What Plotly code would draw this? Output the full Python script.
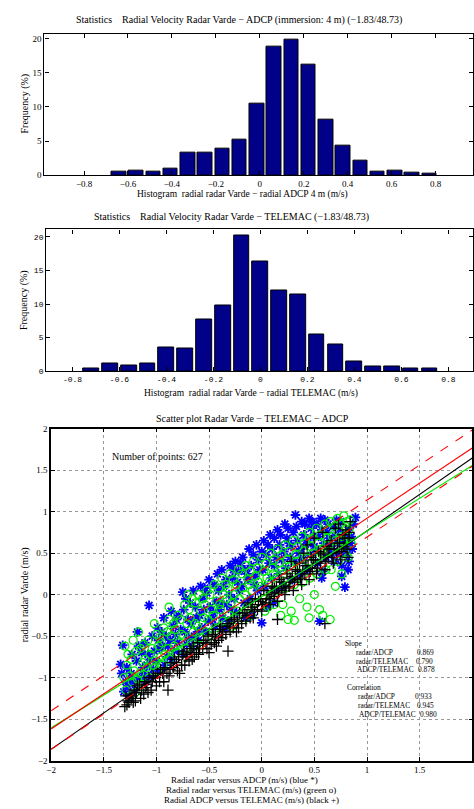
import plotly.graph_objects as go

W, H = 474, 809

# ---------------- data ----------------
hist1_centers = [-0.642, -0.564, -0.485, -0.407, -0.328, -0.250, -0.171, -0.092, -0.014,
                 0.065, 0.143, 0.222, 0.300, 0.379, 0.458, 0.536, 0.615, 0.693, 0.772]
hist1_freq = [0.58, 0.72, 0.58, 0.96, 3.37, 3.37, 3.85, 5.16, 10.55,
              18.84, 19.86, 16.14, 8.14, 4.29, 2.07, 0.48, 0.67, 0.34, 0.19]

hist2_centers = [-0.72, -0.64, -0.56, -0.48, -0.40, -0.32, -0.24, -0.16, -0.08,
                 0.0, 0.08, 0.16, 0.24, 0.32, 0.40, 0.48, 0.56, 0.64, 0.72]
hist2_freq = [0.34, 1.18, 0.79, 1.18, 3.54, 3.39, 7.71, 9.73, 20.2,
              16.3, 12.0, 11.4, 5.45, 4.03, 1.47, 0.64, 0.64, 0.34, 0.34]

hist_ticks = [-0.8, -0.6, -0.4, -0.2, 0, 0.2, 0.4, 0.6, 0.8]
hist_ticklabels = ["\u22120.8", "\u22120.6", "\u22120.4", "\u22120.2", "0", "0.2", "0.4", "0.6", "0.8"]
hist2_ticklabels = ["-0.8", "-0.6", "-0.4", "-0.2", "0", "0.2", "0.4", "0.6", "0.8"]
freq_ticks = [0, 5, 10, 15, 20]

scat_ticks = [-2, -1.5, -1, -0.5, 0, 0.5, 1, 1.5, 2]
scat_ticklabels = ["\u22122", "\u22121.5", "\u22121", "\u22120.5", "0", "0.5", "1", "1.5", "2"]

# radar vs ADCP (blue *)
blue_pts = [
    (-1.32, -0.61), (-1.34, -0.84), (-1.31, -1.17), (-1.29, -1.05), (-1.33, -0.95),
    (-1.26, -1.22), (-1.24, -0.95), (-1.27, -1.10), (-1.23, -0.72), (-1.25, -1.02),
    (-1.18, -0.45), (-1.19, -0.80), (-1.16, -1.00), (-1.20, -1.15), (-1.17, -0.62),
    (-1.11, -0.58), (-1.09, -0.85), (-1.12, -0.95), (-1.10, -1.05), (-1.08, -0.72),
    (-1.07, -0.13), (-1.04, -0.50), (-1.06, -0.78), (-1.03, -0.90), (-1.05, -0.98),
    (-0.99, -0.40), (-0.97, -0.65), (-1.00, -0.80), (-0.96, -0.92), (-0.98, -0.55),
    (-0.93, -0.28), (-0.91, -0.50), (-0.94, -0.62), (-0.90, -0.75), (-0.92, -0.85),
    (-0.86, -0.20), (-0.84, -0.38), (-0.87, -0.55), (-0.83, -0.68), (-0.85, -0.78),
    (-0.75, 0.03), (-0.79, -0.25), (-0.77, -0.42), (-0.80, -0.58), (-0.76, -0.70),
    (-0.72, -0.05), (-0.70, -0.30), (-0.73, -0.45), (-0.71, -0.60), (-0.74, -0.18),
    (-0.65, 0.05), (-0.63, -0.15), (-0.67, -0.35), (-0.64, -0.50), (-0.66, -0.62),
    (-0.58, 0.10), (-0.56, -0.05), (-0.59, -0.25), (-0.57, -0.40), (-0.60, -0.55),
    (-0.50, 0.18), (-0.52, 0.02), (-0.49, -0.15), (-0.51, -0.32), (-0.53, -0.45),
    (-0.45, 0.12), (-0.43, -0.08), (-0.46, -0.22), (-0.44, -0.38), (-0.42, 0.25),
    (-0.38, 0.30), (-0.36, 0.10), (-0.39, -0.10), (-0.37, -0.28), (-0.35, -0.40),
    (-0.30, 0.35), (-0.28, 0.20), (-0.31, 0.00), (-0.29, -0.18), (-0.32, -0.32),
    (-0.25, 0.40), (-0.23, 0.15), (-0.26, -0.05), (-0.24, -0.22), (-0.22, 0.28),
    (-0.18, 0.45), (-0.16, 0.30), (-0.19, 0.10), (-0.17, -0.10), (-0.15, -0.28),
    (-0.12, 0.55), (-0.10, 0.35), (-0.13, 0.18), (-0.11, -0.05), (-0.09, -0.25),
    (-0.05, 0.60), (-0.03, 0.42), (-0.06, 0.22), (-0.04, 0.05), (0.00, -0.34),
    (0.02, 0.65), (0.04, 0.48), (0.01, 0.30), (0.03, 0.10), (0.05, -0.15),
    (0.08, 0.72), (0.10, 0.55), (0.07, 0.38), (0.09, 0.20), (0.11, -0.10),
    (0.15, 0.78), (0.17, 0.60), (0.14, 0.45), (0.16, 0.25), (0.13, 0.05),
    (0.22, 0.85), (0.24, 0.68), (0.21, 0.52), (0.23, 0.32), (0.20, 0.10),
    (0.32, 0.96), (0.30, 0.75), (0.28, 0.58), (0.31, 0.40), (0.29, 0.18),
    (0.38, 0.88), (0.40, 0.72), (0.37, 0.55), (0.39, 0.42), (0.36, 0.25),
    (0.45, 0.92), (0.47, 0.80), (0.44, 0.62), (0.46, 0.48), (0.43, 0.30),
    (0.52, 0.85), (0.54, 0.70), (0.51, 0.55), (0.53, 0.38), (0.55, -0.32),
    (0.60, 0.90), (0.62, 0.75), (0.59, 0.62), (0.61, 0.45), (0.58, 0.28),
    (0.68, 0.82), (0.70, 0.70), (0.67, 0.55), (0.69, 0.40), (0.66, 0.50),
    (0.75, 0.88), (0.77, 0.65), (0.74, 0.48), (0.76, 0.35), (0.79, 0.09),
    (0.82, 0.78), (0.84, 0.62), (0.81, 0.50), (0.89, 0.93),
    (0.85, 0.70), (0.86, 0.55), (0.83, 0.40),
    (-1.28, -0.88), (-1.21, -1.05), (-1.14, -0.70), (-1.13, -0.88), (-1.02, -0.68),
    (-0.95, -0.45), (-0.89, -0.62), (-0.82, -0.48), (-0.81, -0.30), (-0.69, -0.52),
    (-0.68, -0.10), (-0.62, -0.28), (-0.61, -0.45), (-0.55, -0.18), (-0.54, 0.08),
    (-0.47, -0.30), (-0.41, 0.05), (-0.40, -0.18), (-0.34, 0.18), (-0.33, -0.12),
    (-0.27, 0.30), (-0.21, 0.05), (-0.20, 0.38), (-0.14, 0.25), (-0.08, 0.48),
    (-0.07, 0.12), (-0.02, 0.30), (0.00, 0.52), (0.06, 0.60), (0.12, 0.68),
    (0.12, 0.35), (0.18, 0.72), (0.19, 0.42), (0.25, 0.80), (0.26, 0.62),
    (0.27, 0.45), (0.33, 0.82), (0.34, 0.65), (0.35, 0.50), (0.41, 0.85),
    (0.42, 0.65), (0.48, 0.88), (0.49, 0.70), (0.50, 0.58), (0.56, 0.92),
    (0.57, 0.78), (0.63, 0.85), (0.64, 0.68), (0.65, 0.58), (0.71, 0.90),
    (0.72, 0.62), (0.73, 0.78), (0.78, 0.72), (0.80, 0.58), (0.87, 0.85),
    (0.82, 0.30), (0.76, 0.22), (0.57, 0.20),
]

# radar vs TELEMAC (green o)
green_pts = [
    (-1.30, -0.62), (-1.28, -0.85), (-1.31, -1.00), (-1.29, -1.15),
    (-1.22, -0.55), (-1.24, -0.78), (-1.21, -0.92), (-1.23, -1.05), (-1.20, -1.18),
    (-1.15, -0.65), (-1.13, -0.82), (-1.16, -0.95), (-1.14, -1.08), (-1.17, -0.45),
    (-1.08, -0.55), (-1.06, -0.72), (-1.09, -0.88), (-1.07, -1.00),
    (-1.00, -0.48), (-0.98, -0.62), (-1.01, -0.80), (-0.99, -0.92), (-1.02, -0.35),
    (-0.93, -0.40), (-0.95, -0.58), (-0.92, -0.72), (-0.94, -0.85),
    (-0.88, -0.30), (-0.86, -0.50), (-0.89, -0.65), (-0.87, -0.78), (-0.88, -0.15),
    (-0.80, -0.25), (-0.82, -0.42), (-0.79, -0.58), (-0.81, -0.70),
    (-0.73, -0.12), (-0.71, -0.35), (-0.74, -0.50), (-0.72, -0.65), (-0.70, 0.00),
    (-0.66, -0.05), (-0.68, -0.28), (-0.65, -0.45), (-0.67, -0.58),
    (-0.60, 0.00), (-0.58, -0.20), (-0.61, -0.38), (-0.59, -0.52), (-0.62, -0.62),
    (-0.52, 0.05), (-0.54, -0.12), (-0.51, -0.30), (-0.53, -0.45),
    (-0.45, 0.12), (-0.43, -0.08), (-0.46, -0.25), (-0.44, -0.40), (-0.47, -0.50),
    (-0.38, 0.20), (-0.36, 0.00), (-0.39, -0.18), (-0.37, -0.32),
    (-0.30, 0.25), (-0.32, 0.08), (-0.29, -0.10), (-0.31, -0.25), (-0.28, -0.38),
    (-0.22, 0.30), (-0.24, 0.12), (-0.21, -0.05), (-0.23, -0.20),
    (-0.15, 0.35), (-0.13, 0.18), (-0.16, 0.00), (-0.14, -0.15), (-0.17, -0.30),
    (-0.08, 0.40), (-0.06, 0.22), (-0.09, 0.05), (-0.07, -0.10), (-0.10, -0.25),
    (0.00, 0.45), (0.02, 0.28), (-0.01, 0.10), (0.01, -0.05), (0.03, -0.20),
    (0.08, 0.50), (0.10, 0.32), (0.07, 0.15), (0.09, 0.00), (0.06, -0.15),
    (0.15, 0.55), (0.17, 0.38), (0.14, 0.20), (0.16, 0.05), (0.18, -0.25),
    (0.22, 0.60), (0.24, 0.42), (0.21, 0.25), (0.23, 0.08), (0.20, -0.12),
    (0.30, 0.65), (0.32, 0.48), (0.29, 0.30), (0.31, 0.12), (0.28, -0.20), (0.31, -0.31),
    (0.38, 0.70), (0.40, 0.52), (0.37, 0.35), (0.39, 0.15), (0.36, -0.05),
    (0.45, 0.75), (0.47, 0.58), (0.44, 0.40), (0.46, 0.20), (0.43, -0.15),
    (0.52, 0.80), (0.54, 0.62), (0.51, 0.45), (0.53, 0.25), (0.50, 0.00),
    (0.60, 0.85), (0.62, 0.68), (0.59, 0.50), (0.61, 0.30), (0.58, -0.25),
    (0.65, 0.88), (0.67, 0.70), (0.64, 0.52), (0.66, 0.30), (0.65, -0.30),
    (0.72, 0.92), (0.74, 0.75), (0.71, 0.58), (0.73, 0.40), (0.70, 0.10),
    (0.78, 0.95), (0.80, 0.82), (0.77, 0.65), (0.79, 0.50), (0.76, 0.25),
    (0.84, 0.90), (0.83, 0.78), (0.85, 0.62), (0.82, 0.45),
    (-1.27, -0.72), (-1.25, -0.98), (-1.19, -0.68), (-1.18, -1.02), (-1.12, -0.60),
    (-1.11, -0.78), (-1.04, -0.65), (-1.03, -0.85), (-0.97, -0.52), (-0.96, -0.75),
    (-0.90, -0.45), (-0.84, -0.35), (-0.83, -0.62), (-0.77, -0.30), (-0.76, -0.48),
    (-0.69, -0.18), (-0.63, -0.10), (-0.63, -0.35), (-0.56, -0.05), (-0.55, -0.28),
    (-0.49, 0.00), (-0.48, -0.18), (-0.41, 0.08), (-0.40, -0.12), (-0.34, 0.12),
    (-0.33, -0.05), (-0.27, 0.18), (-0.26, 0.00), (-0.19, 0.25), (-0.18, 0.08),
    (-0.11, 0.28), (-0.12, 0.12), (-0.04, 0.32), (-0.03, 0.15), (0.04, 0.38),
    (0.05, 0.20), (0.12, 0.42), (0.11, 0.25), (0.19, 0.48), (0.19, 0.30),
    (0.26, 0.52), (0.27, 0.35), (0.34, 0.58), (0.33, 0.40), (0.41, 0.62),
    (0.42, 0.45), (0.48, 0.68), (0.49, 0.50), (0.56, 0.72), (0.56, 0.55),
    (0.63, 0.78), (0.63, 0.60), (0.69, 0.82), (0.70, 0.65), (0.75, 0.85),
    (0.76, 0.70), (0.81, 0.88), (0.80, 0.72), (0.25, -0.30), (0.45, -0.28),
    (0.55, -0.18), (0.12, -0.12),
]

# ADCP vs TELEMAC (black +)
black_pts = [
    (-1.28, -1.33), (-1.27, -1.28), (-1.29, -1.22),
    (-1.22, -1.30), (-1.23, -1.22), (-1.21, -1.15), (-1.24, -1.25),
    (-1.15, -1.25), (-1.14, -1.15), (-1.16, -1.08),
    (-1.08, -1.18), (-1.09, -1.08), (-1.07, -1.00), (-1.10, -1.12),
    (-1.00, -1.10), (-1.01, -1.00), (-0.99, -0.95),
    (-0.93, -1.05), (-0.94, -0.95), (-0.92, -0.88), (-0.89, -1.15),
    (-0.88, -0.98), (-0.87, -0.90), (-0.86, -0.82),
    (-0.80, -0.92), (-0.81, -0.82), (-0.79, -0.75), (-0.78, -0.95),
    (-0.73, -0.85), (-0.72, -0.75), (-0.74, -0.68), (-0.71, -0.72),
    (-0.66, -0.78), (-0.67, -0.70), (-0.65, -0.62), (-0.64, -0.75),
    (-0.60, -0.72), (-0.59, -0.65), (-0.61, -0.58),
    (-0.52, -0.65), (-0.53, -0.58), (-0.51, -0.50), (-0.50, -0.70),
    (-0.45, -0.58), (-0.44, -0.50), (-0.46, -0.42), (-0.43, -0.62),
    (-0.38, -0.52), (-0.37, -0.45), (-0.39, -0.38),
    (-0.30, -0.45), (-0.31, -0.38), (-0.29, -0.30), (-0.32, -0.68),
    (-0.22, -0.40), (-0.23, -0.32), (-0.21, -0.22), (-0.24, -0.45),
    (-0.15, -0.32), (-0.14, -0.25), (-0.16, -0.18), (-0.13, -0.10),
    (-0.08, -0.28), (-0.07, -0.20), (-0.09, -0.12), (-0.06, -0.05),
    (0.00, -0.20), (0.01, -0.12), (-0.01, -0.05), (0.02, 0.05),
    (0.08, -0.12), (0.07, -0.05), (0.09, 0.02), (0.10, 0.10),
    (0.15, -0.08), (0.16, 0.02), (0.14, 0.10), (0.17, 0.18), (0.15, -0.30),
    (0.22, 0.00), (0.23, 0.08), (0.21, 0.15), (0.24, 0.25),
    (0.30, 0.05), (0.31, 0.15), (0.29, 0.22), (0.32, 0.30), (0.28, 0.40),
    (0.38, 0.12), (0.37, 0.20), (0.39, 0.28), (0.36, 0.38), (0.40, 0.50),
    (0.45, 0.18), (0.46, 0.28), (0.44, 0.35), (0.47, 0.45), (0.43, 0.60),
    (0.52, 0.25), (0.53, 0.32), (0.51, 0.42), (0.54, 0.52), (0.50, 0.68),
    (0.60, 0.30), (0.61, 0.40), (0.59, 0.48), (0.62, 0.58), (0.58, 0.75), (0.60, -0.35),
    (0.68, 0.38), (0.67, 0.45), (0.69, 0.55), (0.66, 0.65), (0.70, 0.80),
    (0.75, 0.42), (0.76, 0.52), (0.74, 0.62), (0.77, 0.72), (0.73, 0.85),
    (0.82, 0.45), (0.81, 0.55), (0.83, 0.68), (0.80, 0.78), (0.84, 0.88),
    (-1.30, -1.35), (-1.26, -1.30), (-1.25, -1.20), (-1.20, -1.28), (-1.19, -1.18),
    (-1.18, -1.10), (-1.12, -1.20), (-1.11, -1.05), (-1.05, -1.15), (-1.04, -1.05),
    (-1.03, -0.98), (-0.97, -1.05), (-0.96, -0.90), (-0.90, -0.95), (-0.84, -0.88),
    (-0.83, -0.78), (-0.76, -0.85), (-0.75, -0.72), (-0.69, -0.80), (-0.68, -0.65),
    (-0.62, -0.70), (-0.56, -0.65), (-0.55, -0.55), (-0.48, -0.60), (-0.47, -0.48),
    (-0.41, -0.55), (-0.40, -0.42), (-0.34, -0.48), (-0.33, -0.35), (-0.27, -0.40),
    (-0.26, -0.28), (-0.19, -0.35), (-0.18, -0.22), (-0.11, -0.28), (-0.10, -0.15),
    (-0.04, -0.18), (-0.03, -0.08), (0.04, -0.10), (0.05, 0.00), (0.12, -0.02),
    (0.12, 0.08), (0.19, 0.05), (0.19, 0.15), (0.26, 0.10), (0.27, 0.20),
    (0.34, 0.18), (0.34, 0.28), (0.41, 0.25), (0.42, 0.35), (0.48, 0.32),
    (0.49, 0.42), (0.56, 0.38), (0.56, 0.50), (0.63, 0.45), (0.64, 0.55),
    (0.71, 0.50), (0.72, 0.62), (0.78, 0.58), (0.79, 0.68), (0.83, 0.75),
]

blue_x = [p[0] for p in blue_pts]
blue_y = [p[1] for p in blue_pts]
green_x = [p[0] for p in green_pts]
green_y = [p[1] for p in green_pts]
black_x = [p[0] for p in black_pts]
black_y = [p[1] for p in black_pts]

# regression lines (endpoints at x=-2 and x=2)
line_x = [-2, 2]
red_fit_y = [-1.619, 1.767]
red_upper_y = [-1.40, 1.985]
red_lower_y = [-1.865, 1.548]
green_fit_y = [-1.607, 1.556]
black_fit_y = [-1.865, 1.647]

n_points = 627
slope_names = ["radar/ADCP", "radar/TELEMAC", "ADCP/TELEMAC"]
slope_vals = ["0.869", "0.790", "0.878"]
corr_vals = ["0.933", "0.945", "0.980"]

# ---------------- figure ----------------
SERIF = "Liberation Serif"
MONO = "Liberation Mono"
BAR = "#000088"


def px_x(p):
    return p / W


def px_y(p):
    return 1 - p / H


fig = go.Figure()

fig.add_trace(go.Bar(x=hist1_centers, y=hist1_freq, width=0.066,
                     marker=dict(color=BAR, line=dict(color="black", width=1)),
                     xaxis="x", yaxis="y", showlegend=False))
fig.add_trace(go.Bar(x=hist2_centers, y=hist2_freq, width=0.067,
                     marker=dict(color=BAR, line=dict(color="black", width=1)),
                     xaxis="x2", yaxis="y2", showlegend=False))

fig.add_trace(go.Scatter(x=blue_x, y=blue_y, mode="markers", xaxis="x3", yaxis="y3",
                         marker=dict(symbol="asterisk-open", size=8, color="#0000ff",
                                     line=dict(color="#0000ff", width=1.8)),
                         showlegend=False))
fig.add_trace(go.Scatter(x=green_x, y=green_y, mode="markers", xaxis="x3", yaxis="y3",
                         marker=dict(symbol="circle-open", size=8, color="#00ee00",
                                     line=dict(color="#00ee00", width=1.2)),
                         showlegend=False))
fig.add_trace(go.Scatter(x=black_x, y=black_y, mode="markers", xaxis="x3", yaxis="y3",
                         marker=dict(symbol="cross-thin-open", size=8, color="black",
                                     line=dict(color="black", width=1.3)),
                         showlegend=False))

for yy, col, dash in [(black_fit_y, "black", "solid"), (green_fit_y, "#00ee00", "solid"),
                      (red_fit_y, "red", "solid"), (red_upper_y, "red", "dash"),
                      (red_lower_y, "red", "dash")]:
    fig.add_trace(go.Scatter(x=line_x, y=yy, mode="lines", xaxis="x3", yaxis="y3",
                             line=dict(color=col, width=1.1, dash=dash),
                             showlegend=False))

axis_common = dict(showline=True, linecolor="black", linewidth=1.2, mirror="ticks",
                   ticks="inside", ticklen=4, tickcolor="black", zeroline=False,
                   showgrid=False)
scat_axis = dict(showline=True, linecolor="black", linewidth=1.5, mirror="ticks",
                 ticks="inside", ticklen=4, tickcolor="black", zeroline=False,
                 showgrid=True, gridcolor="#999999", griddash="dot", gridwidth=1,
                 tickvals=scat_ticks, ticktext=scat_ticklabels,
                 tickfont=dict(family=SERIF, size=9))

fig.update_layout(
    width=W, height=H,
    margin=dict(l=0, r=0, t=0, b=0),
    paper_bgcolor="white", plot_bgcolor="white",
    bargap=0,
    font=dict(family=SERIF, size=10, color="black"),
    xaxis=dict(domain=[px_x(40), 1], range=[-0.98, 0.97], anchor="y",
               tickvals=hist_ticks, ticktext=hist_ticklabels,
               tickfont=dict(family=SERIF, size=9), **axis_common),
    yaxis=dict(domain=[px_y(172.3), px_y(29)], range=[0, 20.75], anchor="x",
               tickvals=freq_ticks, tickfont=dict(family=SERIF, size=9), **axis_common),
    xaxis2=dict(domain=[px_x(41.7), 1], range=[-0.912, 0.905], anchor="y2",
                tickvals=hist_ticks, ticktext=hist2_ticklabels,
                tickfont=dict(family=MONO, size=8), **axis_common),
    yaxis2=dict(domain=[px_y(370.7), px_y(227.3)], range=[0, 21.1], anchor="x2",
                tickvals=freq_ticks, tickfont=dict(family=MONO, size=8), **axis_common),
    xaxis3=dict(domain=[px_x(46.7), px_x(473.3)], range=[-2, 2], anchor="y3", **scat_axis),
    yaxis3=dict(domain=[px_y(765), px_y(429)], range=[-2, 2], anchor="x3", **scat_axis),
)


def text(x, y, s, size=10, xanchor="center", angle=0):
    fig.add_annotation(x=px_x(x), y=px_y(y), xref="paper", yref="paper", text=s,
                       showarrow=False, xanchor=xanchor, yanchor="middle",
                       textangle=angle, borderpad=0,
                       font=dict(family=SERIF, size=size, color="black"))


M = "\u2212"
text(237, 15, f"Statistics &nbsp;&nbsp; Radial Velocity Radar Varde {M} ADCP (immersion: 4 m) ({M}1.83/48.73)")
text(241, 192, f"Histogram &nbsp;radial radar Varde {M} radial ADCP 4 m (m/s)", size=9.5)
text(20, 100, "Frequency (%)", angle=-90)

text(229, 215, f"Statistics &nbsp;&nbsp; Radial Velocity Radar Varde {M} TELEMAC ({M}1.83/48.73)")
text(249.5, 393, f"Histogram &nbsp;radial radar Varde {M} radial TELEMAC (m/s)", size=9.5)
text(20, 299, "Frequency (%)", angle=-90)

text(250.5, 419, f"Scatter plot Radar Varde {M} TELEMAC {M} ADCP")
text(20, 597, "radial radar Varde (m/s)", angle=-90)
text(243, 785, "Radial radar versus ADCP (m/s) (blue *)", size=9)
text(249, 795, "Radial radar versus TELEMAC (m/s) (green o)", size=9)
text(250, 804.5, "Radial ADCP versus TELEMAC (m/s) (black +)", size=9)

text(107, 457, f"Number of points: {n_points}", xanchor="left")

STAT = 7.4
text(343, 646.7, "Slope", size=STAT, xanchor="left")
slope_rows_y = [655.7, 664.7, 673.3]
slope_name_x = [354.3, 354.3, 355]
slope_val_x = [416.7, 415, 417.3]
for i in range(3):
    text(slope_name_x[i], slope_rows_y[i], slope_names[i], size=STAT, xanchor="left")
    text(slope_val_x[i], slope_rows_y[i], slope_vals[i], size=STAT, xanchor="left")

text(345.7, 691.3, "Correlation", size=STAT, xanchor="left")
corr_rows_y = [700.3, 709.3, 718.3]
corr_name_x = [356.7, 356.7, 357.7]
corr_val_x = [414.3, 416.7, 419.3]
for i in range(3):
    text(corr_name_x[i], corr_rows_y[i], slope_names[i], size=STAT, xanchor="left")
    text(corr_val_x[i], corr_rows_y[i], corr_vals[i], size=STAT, xanchor="left")

fig.write_html("out.html")
